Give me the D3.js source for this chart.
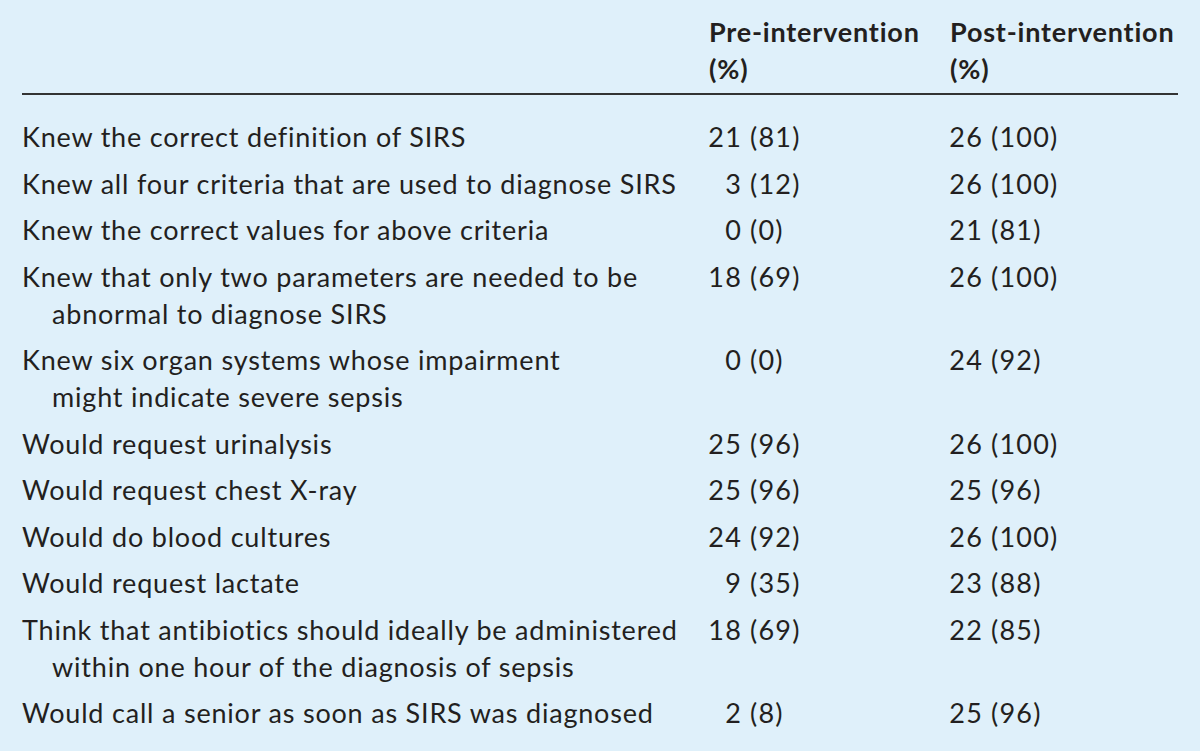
<!DOCTYPE html>
<html><head><meta charset="utf-8">
<script src="https://cdn.jsdelivr.net/npm/d3@7"></script>
<style>
html,body{margin:0;padding:0;background:#dff0fa;}
svg{display:block;}
text{font-family:Lato,"Open Sans",sans-serif;fill:#231f20;letter-spacing:0.8px;}
text.num{letter-spacing:1.2px;}
</style></head><body>
<svg id="c" width="1200" height="751"></svg>
<script>
const headers = ["Pre-intervention\n(%)", "Post-intervention\n(%)"];
const labels = [
  "Knew the correct definition of SIRS",
  "Knew all four criteria that are used to diagnose SIRS",
  "Knew the correct values for above criteria",
  "Knew that only two parameters are needed to be\nabnormal to diagnose SIRS",
  "Knew six organ systems whose impairment\nmight indicate severe sepsis",
  "Would request urinalysis",
  "Would request chest X-ray",
  "Would do blood cultures",
  "Would request lactate",
  "Think that antibiotics should ideally be administered\nwithin one hour of the diagnosis of sepsis",
  "Would call a senior as soon as SIRS was diagnosed"
];
const preN   = [21, 3, 0, 18, 0, 25, 25, 24, 9, 18, 2];
const prePct = [81, 12, 0, 69, 0, 96, 96, 92, 35, 69, 8];
const postN  = [26, 26, 21, 26, 24, 26, 25, 26, 23, 22, 25];
const postPct= [100, 100, 81, 100, 92, 100, 96, 100, 88, 85, 96];

const svg = d3.select("#c");
const FS = 27;
const contRatio = 37 / 46.5;

const rows = labels.map(l => l.split("\n"));
let acc = 0;
const rowPos = rows.map(lines => { const p = acc; acc += 1 + (lines.length - 1) * contRatio; return p; });
const y = d3.scaleLinear().domain([0, 1]).range([147, 193.5]);
const x = d3.scaleOrdinal().domain(["label", "cont", "preN", "prePct", "postHead", "postN", "postPct", "preHead"])
  .range([22, 52, 742, 750, 950, 983, 991, 709]);

const hy = d3.scaleLinear().domain([0, 1]).range([42, 79]);
[["preHead", headers[0]], ["postHead", headers[1]]].forEach(([k, h]) => {
  h.split("\n").forEach((t, i) => {
    svg.append("text").attr("x", x(k)).attr("y", hy(i))
      .attr("font-size", FS).attr("font-weight", 700).text(t);
  });
});
svg.append("line").attr("x1", 22).attr("x2", 1178).attr("y1", 94).attr("y2", 94)
  .attr("stroke", "#333").attr("stroke-width", 2);

const g = svg.selectAll("g.row").data(rows).join("g").attr("class", "row");
g.each(function(lines, i) {
  const sel = d3.select(this);
  lines.forEach((t, j) => {
    sel.append("text").attr("x", j ? x("cont") : x("label"))
      .attr("y", y(rowPos[i] + j * contRatio)).attr("font-size", FS).text(t);
  });
  const by = y(rowPos[i]);
  sel.append("text").attr("class", "num").attr("x", x("preN")).attr("y", by).attr("text-anchor", "end").attr("font-size", FS).text(preN[i]);
  sel.append("text").attr("class", "num").attr("x", x("prePct")).attr("y", by).attr("font-size", FS).text("(" + prePct[i] + ")");
  sel.append("text").attr("class", "num").attr("x", x("postN")).attr("y", by).attr("text-anchor", "end").attr("font-size", FS).text(postN[i]);
  sel.append("text").attr("class", "num").attr("x", x("postPct")).attr("y", by).attr("font-size", FS).text("(" + postPct[i] + ")");
});
</script></body></html>
